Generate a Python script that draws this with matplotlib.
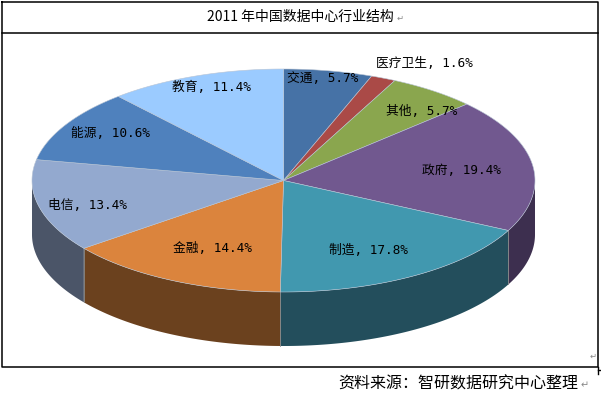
import numpy as np
import matplotlib
matplotlib.use("Agg")
import matplotlib.pyplot as plt

plt.rcParams['font.family'] = ['Noto Sans CJK SC', 'DejaVu Sans']

# clockwise from 12 o'clock
categories = ["交通", "医疗卫生", "其他", "政府", "制造", "金融", "电信", "能源", "教育"]
shares = [5.7, 1.6, 5.7, 19.4, 17.8, 14.4, 13.4, 10.6, 11.4]
title = "2011 年中国数据中心行业结构"
source = "资料来源：智研数据研究中心整理"

top_colors = ["#4672a6", "#aa4a47", "#8aa64e", "#71588f", "#4198af",
              "#db843d", "#93a9cf", "#4f81bd", "#9bcbff"]
side_colors = ["#2c4766", "#6a2e2c", "#566730", "#3d2f4f", "#234e5c",
               "#6b411e", "#4b5568", "#2f4d71", "#5f7d9e"]
label_xy = [(323, 78), (424, 63), (422, 111), (461, 170), (368, 250),
            (212, 248), (87, 205), (110, 133), (211, 87)]

# ellipse of the tilted pie, in image pixels
cx, cy, rx, ry, depth = 283.5, 180.5, 251.5, 111.5, 54


def rim(a0, a1):
    t = np.radians(np.linspace(a0, a1, 120))
    return cx + rx * np.sin(t), cy - ry * np.cos(t)


fig = plt.figure(figsize=(6.01, 3.94), dpi=100)
ax = fig.add_axes([0, 0, 1, 1])
ax.set_xlim(0, 601)
ax.set_ylim(394, 0)
ax.axis("off")

# ── Table frame ──────────────────────────────────────────────
ax.plot([2, 598, 598, 2, 2], [1.5, 1.5, 367, 367, 1.5], color="black", lw=1.1)
ax.plot([2, 598], [33, 33], color="black", lw=1.1)
ax.plot([598, 601], [370, 370], color="black", lw=1)
ax.plot([598, 598], [367, 374], color="black", lw=1)

edges = np.concatenate([[0], np.cumsum(shares)]) * 3.6

# ── Side wall, front half only ───────────────────────────────
for i in range(len(shares)):
    a0, a1 = max(edges[i], 90), min(edges[i + 1], 270)
    if a0 >= a1:
        continue
    x, y = rim(a0, a1)
    ax.fill(np.r_[x, x[::-1]], np.r_[y, y[::-1] + depth],
            color=side_colors[i], lw=0, zorder=2)
    if a0 > 90:
        ax.plot([x[0], x[0]], [y[0], y[0] + depth], color="#8a8a8a", lw=0.6, zorder=2.5)

# ── Top face ─────────────────────────────────────────────────
for i in range(len(shares)):
    x, y = rim(edges[i], edges[i + 1])
    ax.fill(np.r_[cx, x], np.r_[cy, y], facecolor=top_colors[i],
            edgecolor="#b8c4d4", lw=0.4, zorder=3)

# the reference labels have wide, evenly spaced digits
for name, val, (lx, ly) in zip(categories, shares, label_xy):
    ax.text(lx, ly, f"{name}, {val}%", ha="center", va="center",
            fontsize=9.2, color="black", zorder=4,
            family=['DejaVu Sans Mono', 'Noto Sans CJK SC'])

ax.text(300, 17, title, ha="center", va="center", fontsize=10, color="black")
ax.text(458, 384, source, ha="center", va="center", fontsize=11.5, color="black")

for ax_x, ax_y, fs in [(400, 18, 6), (585, 385, 7), (593, 356, 6)]:
    ax.text(ax_x, ax_y, "↵", ha="center", va="center", fontsize=fs, color="#888888")

fig.savefig("out.png", dpi=100)
plt.close(fig)
